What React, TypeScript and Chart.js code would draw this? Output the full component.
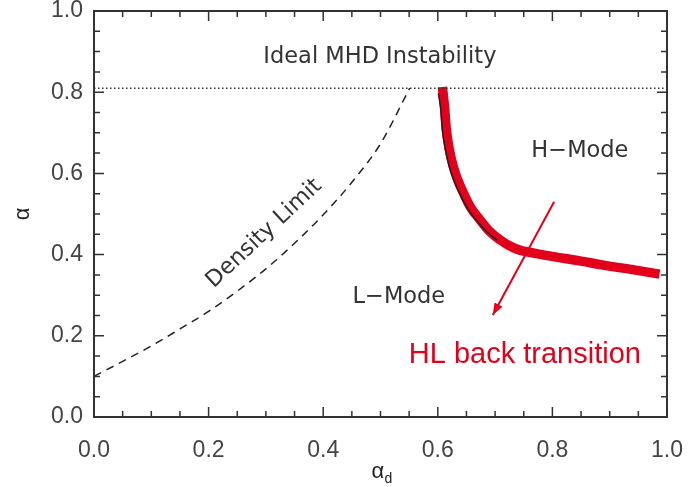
import React, { useEffect, useRef } from "react";
import { Chart, registerables } from "chart.js";

Chart.register(...registerables);

// ---- data ----
const mhdLimitX = [0, 1];
const mhdLimitY = [0.81, 0.81];

const densityX = [0, 0.05, 0.1, 0.15, 0.2, 0.25, 0.3, 0.35, 0.4, 0.45, 0.5, 0.551];
const densityY = [0.10, 0.137, 0.175, 0.217, 0.26, 0.31, 0.365, 0.428, 0.498, 0.578, 0.673, 0.81];

const hlBlackX = [0.601, 0.605, 0.608, 0.613, 0.62, 0.628, 0.638, 0.651, 0.667, 0.684, 0.703];
const hlBlackY = [0.797, 0.76, 0.707, 0.66, 0.617, 0.583, 0.551, 0.515, 0.485, 0.458, 0.436];

const hlRedX = [0.608, 0.612, 0.615, 0.62, 0.627, 0.635, 0.645, 0.658, 0.674, 0.69, 0.709, 0.725, 0.743, 0.77, 0.802, 0.85, 0.889, 0.94, 0.987];
const hlRedY = [0.813, 0.76, 0.707, 0.66, 0.617, 0.583, 0.551, 0.515, 0.485, 0.458, 0.436, 0.422, 0.411, 0.403, 0.395, 0.384, 0.374, 0.363, 0.352];

const arrowX = [0.803, 0.696];
const arrowY = [0.530, 0.251];

const tickValues = [0, 0.2, 0.4, 0.6, 0.8, 1.0];

const labelTexts = ["Ideal MHD Instability", "H\u2212Mode", "L\u2212Mode", "Density Limit", "HL back transition"];
const labelX = [0.499, 0.848, 0.532, 0.297, 0.752];
const labelY = [0.887, 0.656, 0.296, 0.452, 0.153];

const zip = (xs: number[], ys: number[]) => xs.map((x, i) => ({ x, y: ys[i] }));

const RED = "#e3001b";
const DARK = "#333333";

const overlay = {
  id: "overlay",
  afterDatasetsDraw(chart: any) {
    const { ctx, chartArea: ca, scales } = chart;
    const sx = scales.x;
    const sy = scales.y;
    ctx.save();
    // frame
    ctx.strokeStyle = DARK;
    ctx.lineWidth = 2;
    ctx.strokeRect(ca.left, ca.top, ca.right - ca.left, ca.bottom - ca.top);
    // inward ticks every 0.05, longer every 0.2
    ctx.lineWidth = 1.5;
    for (let i = 0; i <= 20; i++) {
      const v = i * 0.05;
      const major = i % 4 === 0;
      const len = major ? 10 : 6;
      const px = sx.getPixelForValue(v);
      const py = sy.getPixelForValue(v);
      ctx.beginPath();
      ctx.moveTo(px, ca.bottom);
      ctx.lineTo(px, ca.bottom - len);
      ctx.moveTo(px, ca.top);
      ctx.lineTo(px, ca.top + len);
      ctx.moveTo(ca.left, py);
      ctx.lineTo(ca.left + len, py);
      ctx.moveTo(ca.right, py);
      ctx.lineTo(ca.right - len, py);
      ctx.stroke();
    }
    // arrow head
    const x0 = sx.getPixelForValue(arrowX[0]);
    const y0 = sy.getPixelForValue(arrowY[0]);
    const x1 = sx.getPixelForValue(arrowX[1]);
    const y1 = sy.getPixelForValue(arrowY[1]);
    const ang = Math.atan2(y1 - y0, x1 - x0);
    const hl = 12, hw = 4.5;
    ctx.fillStyle = RED;
    ctx.beginPath();
    ctx.moveTo(x1, y1);
    ctx.lineTo(x1 - hl * Math.cos(ang) + hw * Math.sin(ang), y1 - hl * Math.sin(ang) - hw * Math.cos(ang));
    ctx.lineTo(x1 - hl * Math.cos(ang) - hw * Math.sin(ang), y1 - hl * Math.sin(ang) + hw * Math.cos(ang));
    ctx.closePath();
    ctx.fill();

    // annotations
    ctx.textAlign = "center";
    ctx.textBaseline = "middle";
    labelTexts.forEach((t, i) => {
      const px = sx.getPixelForValue(labelX[i]);
      const py = sy.getPixelForValue(labelY[i]);
      ctx.save();
      ctx.translate(px, py);
      if (i === 4) {
        ctx.fillStyle = RED;
        ctx.font = "29px 'Liberation Sans', Arial, sans-serif";
      } else {
        ctx.fillStyle = DARK;
        ctx.font = "22.5px 'DejaVu Sans', sans-serif";
      }
      if (i === 3) ctx.rotate((-43 * Math.PI) / 180);
      ctx.fillText(t, 0, 0);
      ctx.restore();
    });

    // axis titles
    ctx.fillStyle = "#222";
    ctx.font = "22px 'Liberation Sans', Arial, sans-serif";
    ctx.save();
    ctx.translate(23, (ca.top + ca.bottom) / 2);
    ctx.rotate(-Math.PI / 2);
    ctx.fillText("\u03b1", 0, 0);
    ctx.restore();
    const cx = (ca.left + ca.right) / 2;
    ctx.textAlign = "left";
    ctx.fillText("\u03b1", cx - 9, 472);
    ctx.font = "14px 'Liberation Sans', Arial, sans-serif";
    ctx.fillText("d", cx + 4, 479);
    ctx.restore();
  },
};

export default function App() {
  const ref = useRef<HTMLCanvasElement>(null);
  useEffect(() => {
    if (!ref.current) return;
    const tickFont = { family: "'Liberation Sans', Arial, sans-serif", size: 23 };
    const chart = new Chart(ref.current, {
      type: "scatter",
      data: {
        datasets: [
          {
            data: zip(mhdLimitX, mhdLimitY),
            showLine: true,
            borderColor: DARK,
            borderWidth: 1.5,
            borderDash: [1.5, 2.5],
            pointRadius: 0,
          },
          {
            data: zip(densityX, densityY),
            showLine: true,
            borderColor: "#222",
            borderWidth: 1.5,
            borderDash: [8, 6],
            cubicInterpolationMode: "monotone",
            pointRadius: 0,
          },
          {
            data: zip(hlBlackX, hlBlackY),
            showLine: true,
            borderColor: "#222",
            borderWidth: 1.5,
            cubicInterpolationMode: "monotone",
            pointRadius: 0,
          },
          {
            data: zip(hlRedX, hlRedY),
            showLine: true,
            borderColor: RED,
            borderWidth: 9.5,
            borderCapStyle: "butt",
            borderJoinStyle: "round",
            tension: 0.4,
            pointRadius: 0,
          },
          {
            data: zip(arrowX, arrowY),
            showLine: true,
            borderColor: RED,
            borderWidth: 2,
            pointRadius: 0,
          },
        ] as any,
      },
      options: {
        animation: false,
        responsive: false,
        maintainAspectRatio: false,
        layout: { padding: { top: 11, right: 21, left: 0, bottom: 0 } },
        plugins: { legend: { display: false }, tooltip: { enabled: false } },
        scales: {
          x: {
            type: "linear",
            min: 0,
            max: 1,
            afterBuildTicks: (s: any) => {
              s.ticks = tickValues.map((v) => ({ value: v }));
            },
            afterFit: (s: any) => {
              s.height = 70;
              s.paddingLeft = 0;
              s.paddingRight = 0;
            },
            grid: { display: false, drawTicks: false },
            border: { display: false },
            ticks: {
              color: "#444",
              font: tickFont,
              padding: 20,
              callback: (v: any) => Number(v).toFixed(1),
            },
          },
          y: {
            type: "linear",
            min: 0,
            max: 1,
            afterBuildTicks: (s: any) => {
              s.ticks = tickValues.map((v) => ({ value: v }));
            },
            afterFit: (s: any) => {
              s.width = 94;
              s.paddingTop = 0;
              s.paddingBottom = 0;
            },
            grid: { display: false, drawTicks: false },
            border: { display: false },
            ticks: {
              color: "#444",
              font: tickFont,
              padding: 11,
              callback: (v: any) => Number(v).toFixed(1),
            },
          },
        },
      } as any,
      plugins: [overlay],
    });
    return () => chart.destroy();
  }, []);
  return (
    <div style={{ position: "fixed", left: 0, top: 0, width: 688, height: 487, background: "#fff" }}>
      <canvas ref={ref} width={688} height={487} style={{ display: "block" }} />
    </div>
  );
}
